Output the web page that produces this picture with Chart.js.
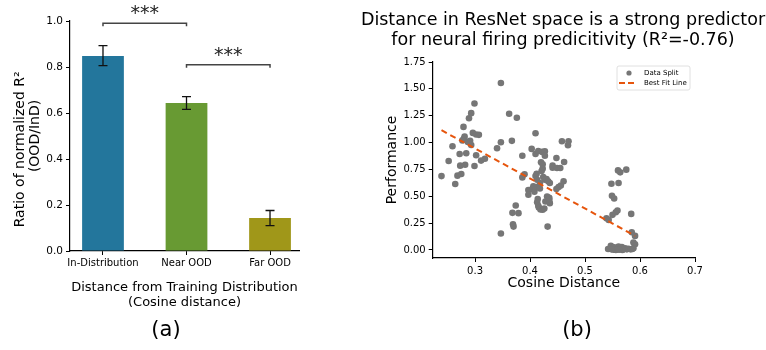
<!DOCTYPE html>
<html>
<head>
<meta charset="utf-8">
<script src="https://cdn.jsdelivr.net/npm/chart.js@4.4.0/dist/chart.umd.min.js"></script>
<style>
  html, body { margin: 0; padding: 0; background: #fff; }
  #wrap { position: relative; width: 766px; height: 350px; overflow: hidden; }
  canvas { position: absolute; top: 0; }
  #chartA { left: 0; }
  #chartB { left: 360px; }
</style>
</head>
<body>
<div id="wrap">
  <canvas id="chartA" width="360" height="350"></canvas>
  <canvas id="chartB" width="406" height="350"></canvas>
</div>
<script>
// ---- panel (a): ratio bars ----
const splits = ['In-Distribution', 'Near OOD', 'Far OOD'];
const splitPos = [0, 1, 2];
const ratio = [0.848, 0.643, 0.143];
const ratioLow = [0.806, 0.616, 0.110];
const ratioHigh = [0.893, 0.671, 0.176];
const barColors = ['#23769c', '#689a33', '#a09719'];
const ratioTicks = [0, 0.2, 0.4, 0.6, 0.8, 1.0];
// significance brackets
const sigFrom = [0, 1];
const sigTo = [1, 2];
const sigLevel = [0.99, 0.81];
const sigText = ['***', '***'];

// ---- panel (b): scatter ----
const cosDist = [
  0.239, 0.252, 0.259, 0.264, 0.268, 0.272, 0.273, 0.275, 0.279, 0.280, 0.281, 0.282, 0.284, 0.289,
  0.291, 0.293, 0.293, 0.296, 0.299, 0.299, 0.302, 0.307, 0.302, 0.311, 0.318, 0.277, 0.287,
  0.340, 0.347, 0.347, 0.347, 0.362, 0.367, 0.376, 0.368, 0.374, 0.379, 0.369, 0.370,
  0.386, 0.386, 0.390, 0.397, 0.397, 0.403, 0.410, 0.410, 0.415, 0.422, 0.427, 0.427, 0.412, 0.410,
  0.413, 0.406, 0.404, 0.408, 0.414, 0.418, 0.418, 0.420, 0.423, 0.421, 0.423, 0.424, 0.427, 0.430,
  0.433, 0.436, 0.414, 0.413, 0.415, 0.416, 0.419, 0.423, 0.426, 0.428, 0.431, 0.435, 0.436, 0.435,
  0.432, 0.441, 0.441, 0.448, 0.449, 0.455, 0.448, 0.452, 0.456, 0.458, 0.461, 0.462, 0.469, 0.470,
  0.539, 0.543, 0.548, 0.549, 0.553, 0.550, 0.556, 0.559, 0.560, 0.564, 0.561, 0.575, 0.584, 0.585,
  0.591, 0.588, 0.591,
  0.542, 0.547, 0.550, 0.553, 0.558, 0.561, 0.564, 0.567, 0.570, 0.573, 0.576, 0.579, 0.583, 0.586,
  0.552, 0.556, 0.568, 0.588, 0.548, 0.562
];
const perf = [
  0.688, 0.829, 0.966, 0.614, 0.692, 0.894, 0.785, 0.707, 1.146, 1.037, 1.056, 0.794, 0.900, 1.227,
  1.016, 1.274, 0.978, 1.090, 0.782, 1.364, 1.075, 1.072, 0.882, 0.832, 0.850, 1.020, 1.005,
  0.947, 1.003, 1.554, 0.153, 1.268, 1.016, 1.231, 0.346, 0.414, 0.343, 0.240, 0.218,
  0.878, 0.676, 0.704, 0.558, 0.514, 0.941, 1.087, 0.894, 0.922, 0.913, 0.919, 0.878, 0.710, 0.688,
  0.654, 0.592, 0.567, 0.542, 0.586, 0.573, 0.623, 0.816, 0.798, 0.735, 0.757, 0.679, 0.654, 0.660,
  0.639, 0.623, 0.474, 0.445, 0.411, 0.396, 0.377, 0.374, 0.386, 0.452, 0.498, 0.486, 0.436, 0.467,
  0.218, 0.785, 0.766, 0.857, 0.763, 0.763, 0.567, 0.586, 0.601, 1.012, 0.639, 0.819, 0.975, 1.012,
  0.296, 0.280, 0.617, 0.505, 0.480, 0.327, 0.352, 0.368, 0.741, 0.723, 0.623, 0.748, 0.336, 0.165,
  0.131, 0.069, 0.053,
  0.009, 0.040, 0.016, 0.025, 0.006, 0.031, 0.012, 0.028, 0.006, 0.016, 0.006, 0.012, 0.006, 0.009,
  0.002, 0.001, 0.001, 0.016, 0.006, 0.002
];
const fitX = [0.239, 0.591];
const fitY = [1.115, 0.132];
const distTicks = [0.3, 0.4, 0.5, 0.6, 0.7];
const perfTicks = [0, 0.25, 0.5, 0.75, 1.0, 1.25, 1.5, 1.75];

Chart.defaults.font.family = '"DejaVu Sans", sans-serif';
Chart.defaults.color = '#000';

const axisGrid = { display: true, offset: false, drawOnChartArea: false, drawTicks: true, tickLength: 4, tickColor: '#000', tickWidth: 1 };
const axisBorder = { display: true, color: '#000', width: 1.2 };

// empty right-hand axis, only there to reserve the white margin right of the plot
const spacer = w => ({
  position: 'right', display: true,
  afterFit: s => { s.width = w; },
  grid: { display: false }, border: { display: false }, ticks: { display: false }
});

// error bars, brackets and the panel letter
const panelA = {
  id: 'panelA',
  afterDatasetsDraw(chart) {
    const { ctx, scales: { x, y } } = chart;
    ctx.save();
    ctx.strokeStyle = '#111';
    ctx.lineWidth = 1.3;
    splitPos.forEach((p, i) => {
      const px = x.getPixelForValue(p);
      const lo = y.getPixelForValue(ratioLow[i]);
      const hi = y.getPixelForValue(ratioHigh[i]);
      ctx.beginPath();
      ctx.moveTo(px, lo); ctx.lineTo(px, hi);
      ctx.moveTo(px - 4.5, lo); ctx.lineTo(px + 4.5, lo);
      ctx.moveTo(px - 4.5, hi); ctx.lineTo(px + 4.5, hi);
      ctx.stroke();
    });
    sigFrom.forEach((f, i) => {
      const x1 = x.getPixelForValue(f);
      const x2 = x.getPixelForValue(sigTo[i]);
      const yy = y.getPixelForValue(sigLevel[i]);
      ctx.strokeStyle = '#444';
      ctx.lineWidth = 1.5;
      ctx.beginPath();
      ctx.moveTo(x1, yy + 3); ctx.lineTo(x1, yy); ctx.lineTo(x2, yy); ctx.lineTo(x2, yy + 3);
      ctx.stroke();
      ctx.fillStyle = '#222';
      ctx.font = '19px "DejaVu Sans"';
      ctx.textAlign = 'center';
      ctx.textBaseline = 'alphabetic';
      ctx.fillText(sigText[i], (x1 + x2) / 2, yy - 4);
    });
    ctx.fillStyle = '#000';
    ctx.font = '21px "DejaVu Sans"';
    ctx.textAlign = 'center';
    ctx.textBaseline = 'middle';
    ctx.fillText('(a)', 166, 331);
    ctx.restore();
  }
};

new Chart(document.getElementById('chartA'), {
  type: 'bar',
  data: {
    datasets: [{
      data: splitPos.map((p, i) => ({ x: p, y: ratio[i] })),
      backgroundColor: barColors,
      barPercentage: 1,
      categoryPercentage: 0.5
    }]
  },
  options: {
    responsive: false,
    animation: false,
    layout: { padding: { top: 21, right: 0, left: 0, bottom: 0 } },
    plugins: { legend: { display: false }, tooltip: { enabled: false } },
    scales: {
      x: {
        type: 'linear', min: -0.395, max: 2.347, offset: false,
        afterBuildTicks: s => { s.ticks = splitPos.map(v => ({ value: v })); },
        afterFit: s => { s.height = 99; },
        grid: axisGrid, border: axisBorder,
        ticks: { callback: v => splits[v], font: { size: 10 }, padding: 2, maxRotation: 0, autoSkip: false },
        title: {
          display: true,
          text: ['Distance from Training Distribution', '(Cosine distance)'],
          font: { size: 13, lineHeight: 1.15 },
          padding: { top: 0, bottom: 39.5 }
        }
      },
      y: {
        min: 0, max: 1,
        afterBuildTicks: s => { s.ticks = ratioTicks.map(v => ({ value: v })); },
        afterFit: s => { s.width = 70; },
        grid: axisGrid, border: axisBorder,
        ticks: { callback: v => v.toFixed(1), font: { size: 10.5 }, padding: 3 },
        title: {
          display: true,
          text: ['Ratio of normalized R\u00b2      ', '(OOD/InD)'],
          font: { size: 14, lineHeight: 1.07 },
          padding: { top: 12.5, bottom: 0 }
        }
      },
      pad: spacer(61)
    }
  },
  plugins: [panelA]
});

// legend box and panel letter for (b)
const panelB = {
  id: 'panelB',
  afterDraw(chart) {
    const { ctx } = chart;
    ctx.save();
    ctx.fillStyle = 'rgba(255,255,255,0.9)';
    ctx.strokeStyle = '#d8d8d8';
    ctx.lineWidth = 0.8;
    ctx.beginPath();
    ctx.roundRect(257, 66, 73, 24, 2);
    ctx.fill();
    ctx.stroke();
    ctx.fillStyle = '#767676';
    ctx.beginPath();
    ctx.arc(269, 73, 2.6, 0, Math.PI * 2);
    ctx.fill();
    ctx.strokeStyle = '#e6550d';
    ctx.lineWidth = 2;
    ctx.setLineDash([6, 3]);
    ctx.beginPath();
    ctx.moveTo(259, 83); ctx.lineTo(277, 83);
    ctx.stroke();
    ctx.setLineDash([]);
    ctx.fillStyle = '#000';
    ctx.font = '7px "DejaVu Sans"';
    ctx.textAlign = 'left';
    ctx.textBaseline = 'middle';
    ctx.fillText(chart.data.datasets[0].label, 284, 73);
    ctx.fillText(chart.data.datasets[1].label, 284, 83);
    ctx.font = '21px "DejaVu Sans"';
    ctx.textAlign = 'center';
    ctx.fillText('(b)', 217, 331);
    ctx.restore();
  }
};

new Chart(document.getElementById('chartB'), {
  type: 'scatter',
  data: {
    datasets: [{
      label: 'Data Split',
      data: cosDist.map((d, i) => ({ x: d, y: perf[i] })),
      backgroundColor: '#767676',
      borderWidth: 0,
      pointRadius: 3.3,
      order: 1
    }, {
      label: 'Best Fit Line',
      data: fitX.map((d, i) => ({ x: d, y: fitY[i] })),
      showLine: true,
      borderColor: '#e6550d',
      borderWidth: 2,
      borderDash: [6, 4],
      pointRadius: 0,
      order: 0
    }]
  },
  options: {
    responsive: false,
    animation: false,
    layout: { padding: 0 },
    plugins: {
      legend: { display: false },
      tooltip: { enabled: false },
      title: {
        display: true,
        text: ['Distance in ResNet space is a strong predictor', 'for neural firing predicitivity (R\u00b2=-0.76)'],
        font: { size: 17.5, weight: 'normal', lineHeight: 1.14 },
        color: '#000',
        padding: { top: 10.5, bottom: 11.6 }
      }
    },
    scales: {
      x: {
        type: 'linear', min: 0.223, max: 0.7,
        afterBuildTicks: s => { s.ticks = distTicks.map(v => ({ value: v })); },
        afterFit: s => { s.height = 92; },
        grid: axisGrid, border: axisBorder,
        ticks: { callback: v => v.toFixed(1), font: { size: 10 }, padding: 3 },
        title: { display: true, text: 'Cosine Distance', font: { size: 14 }, padding: { top: 0, bottom: 58.6 } }
      },
      y: {
        min: -0.0745, max: 1.75,
        afterBuildTicks: s => { s.ticks = perfTicks.map(v => ({ value: v })); },
        afterFit: s => { s.width = 72.7; },
        grid: axisGrid, border: axisBorder,
        ticks: { callback: v => v.toFixed(2), font: { size: 10 }, padding: 3 },
        title: { display: true, text: 'Performance', font: { size: 14 }, padding: { top: 23.6, bottom: 0 } }
      },
      pad: spacer(71)
    }
  },
  plugins: [panelB]
});
</script>
</body>
</html>
